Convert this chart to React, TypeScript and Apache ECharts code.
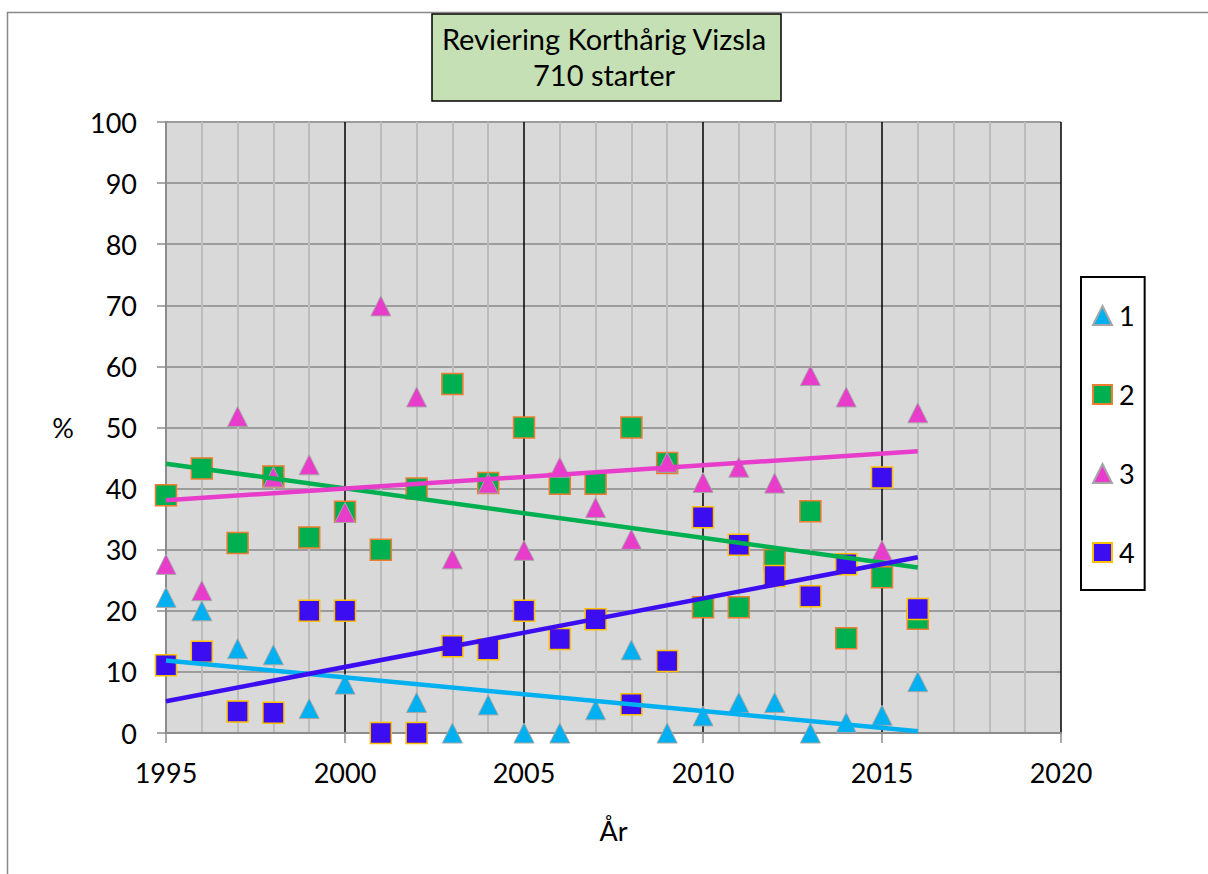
import React, { useEffect, useRef } from "react";
import * as echarts from "echarts";

const years = [1995, 1996, 1997, 1998, 1999, 2000, 2001, 2002, 2003, 2004, 2005, 2006, 2007, 2008, 2009, 2010, 2011, 2012, 2013, 2014, 2015, 2016];
const s1 = [22.2, 20, 13.8, 12.8, 4, 8, 0, 5, 0, 4.6, 0, 0, 3.8, 13.6, 0, 2.8, 5, 5, 0, 1.7, 2.9, 8.4];
const s2 = [38.9, 43.3, 31.1, 42, 32, 36.2, 30, 40, 57.1, 40.9, 50, 40.8, 40.8, 50, 44.2, 20.6, 20.6, 28.3, 36.3, 15.5, 25.5, 18.7];
const s3 = [27.6, 23.3, 51.8, 41.9, 43.9, 36.1, 69.9, 55, 28.5, 40.9, 29.9, 43.5, 36.9, 31.7, 44.3, 41, 43.5, 40.9, 58.5, 55, 29.9, 52.4];
const s4 = [11.1, 13.3, 3.5, 3.3, 20, 20, 0, 0, 14.2, 13.7, 20, 15.4, 18.6, 4.7, 11.8, 35.3, 30.8, 25.7, 22.4, 27.6, 41.8, 20.3];
const seriesNames = ["1", "2", "3", "4"];
const xTicks = { min: 1995, max: 2020, step: 5 };
const yTicks = { min: 0, max: 100, step: 10 };
const titleLines = ["Reviering Korthårig Vizsla", "710 starter"];
const xName = "År";
const yName = "%";

const FONT = "Lato";

function trend(xs: number[], ys: number[]) {
  const n = xs.length;
  const mx = xs.reduce((a, b) => a + b, 0) / n;
  const my = ys.reduce((a, b) => a + b, 0) / n;
  let sxy = 0, sxx = 0;
  for (let i = 0; i < n; i++) {
    sxy += (xs[i] - mx) * (ys[i] - my);
    sxx += (xs[i] - mx) * (xs[i] - mx);
  }
  const b = sxy / sxx;
  const a = my - b * mx;
  const x0 = xs[0], x1 = xs[n - 1];
  return [[x0, a + b * x0], [x1, a + b * x1]];
}

export default function App() {
  const ref = useRef<HTMLDivElement>(null);
  useEffect(() => {
    if (!ref.current) return;
    const chart = echarts.init(ref.current, null, { renderer: "svg" });
    const pts = (arr: number[]) => years.map((y, i) => [y, arr[i]]);
    const styles = [
      { symbol: "triangle", size: 20, color: "#00b0f0", border: "#a6a6a6", bw: 1, line: "#00b0f0" },
      { symbol: "rect", size: 21, color: "#00b050", border: "#ed7d31", bw: 1.5, line: "#00b050" },
      { symbol: "triangle", size: 20, color: "#e83ccb", border: "#a6a6a6", bw: 1, line: "#e83ccb" },
      { symbol: "rect", size: 21, color: "#3b0df0", border: "#ffc000", bw: 1.5, line: "#3b0df0" },
    ];
    const data = [s1, s2, s3, s4];
    const scatter = data.map((d, i) => ({
      name: seriesNames[i],
      type: "scatter",
      symbol: styles[i].symbol,
      symbolSize: styles[i].size,
      itemStyle: { color: styles[i].color, borderColor: styles[i].border, borderWidth: styles[i].bw, opacity: 1 },
      data: pts(d),
      z: 3,
    }));
    const lines = data.map((d, i) => ({
      name: "trend" + seriesNames[i],
      type: "line",
      data: trend(years, d),
      symbol: "none",
      lineStyle: { color: styles[i].line, width: 4.5 },
      z: 4,
    }));
    chart.setOption({
      animation: false,
      backgroundColor: "#ffffff",
      textStyle: { fontFamily: FONT },
      title: {
        text: titleLines.join("\n"),
        left: "center",
        top: 20,
        textStyle: { fontFamily: FONT, fontSize: 29, fontWeight: "normal", color: "#000", lineHeight: 36 },
        padding: 0,
      },
      graphic: [
        {
          type: "rect",
          shape: { x: 7.5, y: 12.5, width: 1300, height: 1000 },
          style: { fill: "none", stroke: "#888888", lineWidth: 1.5 },
          silent: true,
          z: -10,
        },
        {
          type: "rect",
          shape: { x: 432, y: 14, width: 349, height: 87 },
          style: { fill: "#c5e0b4", stroke: "#000000", lineWidth: 1.5 },
          silent: true,
          z: -5,
        },
      ],
      legend: {
        data: seriesNames,
        orient: "vertical",
        left: 1081,
        top: 277,
        padding: [25, 10, 24, 11],
        itemWidth: 19,
        itemHeight: 19,
        itemGap: 52,
        borderColor: "#000",
        borderWidth: 2,
        textStyle: { fontFamily: FONT, fontSize: 27, color: "#000", lineHeight: 26, padding: [0, 0, 0, 2] },
      },
      grid: {
        left: 166,
        top: 122,
        width: 895,
        height: 611,
        show: true,
        backgroundColor: "#d9d9d9",
        borderWidth: 0,
      },
      xAxis: {
        type: "value",
        min: xTicks.min,
        max: xTicks.max,
        interval: xTicks.step,
        name: xName,
        nameLocation: "middle",
        nameGap: 84,
        nameTextStyle: { fontFamily: FONT, fontSize: 27, color: "#000" },
        axisLine: { show: true, onZero: false, lineStyle: { color: "#8c8c8c", width: 2 } },
        axisTick: { show: true, length: 10, lineStyle: { color: "#8c8c8c", width: 1.5 } },
        axisLabel: { fontFamily: FONT, fontSize: 27, color: "#000", margin: 26, formatter: (v: number) => String(v) },
        splitLine: { show: true, lineStyle: { color: "#000", width: 1.5 } },
        minorTick: { show: false, splitNumber: 5 },
        minorSplitLine: { show: true, lineStyle: { color: "#bcbcbc", width: 2 } },
      },
      yAxis: {
        type: "value",
        min: yTicks.min,
        max: yTicks.max,
        interval: yTicks.step,
        name: yName,
        nameLocation: "middle",
        nameRotate: 0,
        nameGap: 92,
        nameTextStyle: { fontFamily: FONT, fontSize: 27, color: "#000" },
        axisLine: { show: true, lineStyle: { color: "#8c8c8c", width: 2 } },
        axisTick: { show: true, length: 9, lineStyle: { color: "#8c8c8c", width: 1.5 } },
        axisLabel: { fontFamily: FONT, fontSize: 27, color: "#000", margin: 29 },
        splitLine: { show: true, lineStyle: { color: "#9c9c9c", width: 2 } },
      },
      series: [...scatter, ...lines],
    });
    return () => chart.dispose();
  }, []);
  return (
    <div
      ref={ref}
      style={{ position: "absolute", left: 0, top: 0, width: 1208, height: 874 }}
    />
  );
}
